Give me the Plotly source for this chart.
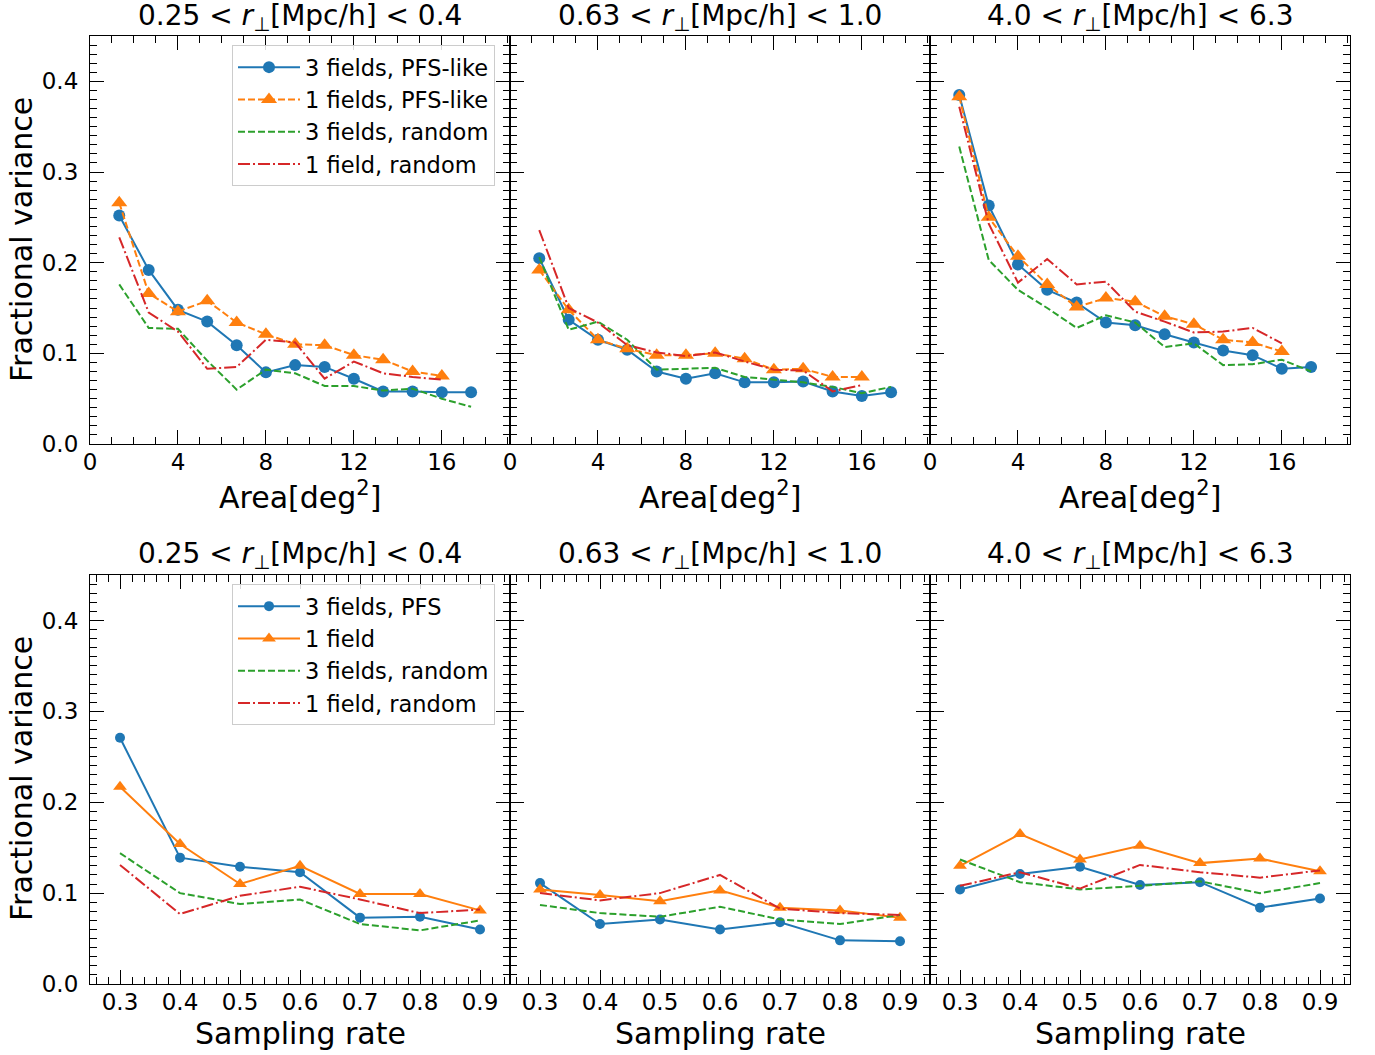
import plotly.graph_objects as go

# ---------------- data ----------------
area = [1.33, 2.67, 4.0, 5.33, 6.67, 8.0, 9.33, 10.67, 12.0, 13.33, 14.67, 16.0, 17.33]
area12 = area[:12]
sampling = [0.3, 0.4, 0.5, 0.6, 0.7, 0.8, 0.9]

titles = ["0.25 &lt; <i>r</i><sub>⊥</sub>[Mpc/h] &lt; 0.4",
          "0.63 &lt; <i>r</i><sub>⊥</sub>[Mpc/h] &lt; 1.0",
          "4.0 &lt; <i>r</i><sub>⊥</sub>[Mpc/h] &lt; 6.3"]

# top row: fractional variance vs area
a1_pfs3 = [0.252, 0.192, 0.148, 0.135, 0.109, 0.079, 0.087, 0.085, 0.072, 0.058, 0.058, 0.057, 0.057]
a1_pfs1 = [0.266, 0.166, 0.146, 0.158, 0.134, 0.121, 0.110, 0.109, 0.098, 0.093, 0.080, 0.075]
a1_rnd3 = [0.176, 0.128, 0.127, 0.092, 0.060, 0.082, 0.078, 0.064, 0.064, 0.059, 0.061, 0.050, 0.041]
a1_rnd1 = [0.228, 0.145, 0.124, 0.083, 0.085, 0.115, 0.112, 0.072, 0.091, 0.078, 0.074, 0.071]

a2_pfs3 = [0.205, 0.137, 0.115, 0.104, 0.080, 0.072, 0.078, 0.068, 0.068, 0.069, 0.058, 0.053, 0.057]
a2_pfs1 = [0.192, 0.148, 0.115, 0.105, 0.098, 0.098, 0.100, 0.094, 0.082, 0.083, 0.074, 0.074]
a2_rnd3 = [0.206, 0.126, 0.135, 0.115, 0.082, 0.083, 0.084, 0.074, 0.071, 0.068, 0.063, 0.056, 0.063]
a2_rnd1 = [0.236, 0.150, 0.134, 0.109, 0.101, 0.097, 0.101, 0.091, 0.082, 0.081, 0.058, 0.065]

a3_pfs3 = [0.385, 0.263, 0.198, 0.170, 0.156, 0.134, 0.131, 0.121, 0.112, 0.103, 0.098, 0.083, 0.085]
a3_pfs1 = [0.383, 0.250, 0.207, 0.176, 0.151, 0.161, 0.157, 0.141, 0.132, 0.115, 0.112, 0.102]
a3_rnd3 = [0.328, 0.203, 0.170, 0.150, 0.128, 0.142, 0.134, 0.107, 0.111, 0.087, 0.088, 0.093, 0.080]
a3_rnd1 = [0.372, 0.243, 0.178, 0.204, 0.176, 0.179, 0.146, 0.135, 0.123, 0.124, 0.128, 0.111]

# bottom row: fractional variance vs sampling rate
s1_pfs3 = [0.271, 0.139, 0.129, 0.123, 0.073, 0.074, 0.060]
s1_pfs1 = [0.217, 0.154, 0.110, 0.130, 0.099, 0.099, 0.081]
s1_rnd3 = [0.144, 0.100, 0.088, 0.093, 0.066, 0.059, 0.070]
s1_rnd1 = [0.131, 0.077, 0.097, 0.107, 0.093, 0.078, 0.082]

s2_pfs3 = [0.111, 0.066, 0.071, 0.060, 0.068, 0.048, 0.047]
s2_pfs1 = [0.104, 0.098, 0.091, 0.103, 0.084, 0.081, 0.073]
s2_rnd3 = [0.087, 0.078, 0.074, 0.085, 0.071, 0.066, 0.076]
s2_rnd1 = [0.100, 0.092, 0.100, 0.120, 0.083, 0.078, 0.076]

s3_pfs3 = [0.104, 0.121, 0.129, 0.109, 0.112, 0.084, 0.094]
s3_pfs1 = [0.130, 0.165, 0.137, 0.152, 0.133, 0.138, 0.124]
s3_rnd3 = [0.137, 0.112, 0.104, 0.108, 0.113, 0.100, 0.111]
s3_rnd1 = [0.108, 0.123, 0.105, 0.131, 0.123, 0.117, 0.125]

top_names = ["3 fields, PFS-like", "1 fields, PFS-like", "3 fields, random", "1 field, random"]
bot_names = ["3 fields, PFS", "1 field", "3 fields, random", "1 field, random"]

# ---------------- style ----------------
BLUE, ORANGE, GREEN, RED = "#1f77b4", "#ff7f0e", "#2ca02c", "#d62728"
FONT = "DejaVu Sans"
W, H = 1375, 1055
DASH = "7px,3px"
DASHDOT = "12px,3px,2px,3px"
TICKSIZE = 23
LABELSIZE = 30
TITLESIZE = 28

xd = [(90 / W, 510 / W), (510 / W, 930 / W), (930 / W, 1350 / W)]
yd_top = (1 - 444 / H, 1 - 36 / H)
yd_bot = (1 - 984 / H, 1 - 575 / H)

fig = go.Figure()

top_data = [(a1_pfs3, a1_pfs1, a1_rnd3, a1_rnd1),
            (a2_pfs3, a2_pfs1, a2_rnd3, a2_rnd1),
            (a3_pfs3, a3_pfs1, a3_rnd3, a3_rnd1)]
bot_data = [(s1_pfs3, s1_pfs1, s1_rnd3, s1_rnd1),
            (s2_pfs3, s2_pfs1, s2_rnd3, s2_rnd1),
            (s3_pfs3, s3_pfs1, s3_rnd3, s3_rnd1)]

for i, (p3, p1, r3, r1) in enumerate(top_data):
    xa = "x" if i == 0 else f"x{i + 1}"
    ya = "y" if i == 0 else f"y{i + 1}"
    show = i == 0
    fig.add_trace(go.Scatter(x=area, y=p3, mode="lines+markers", name=top_names[0],
                             line=dict(color=BLUE, width=2), marker=dict(symbol="circle", size=12, color=BLUE),
                             xaxis=xa, yaxis=ya, showlegend=show, legend="legend", legendgroup="t0"))
    fig.add_trace(go.Scatter(x=area12, y=p1, mode="lines+markers", name=top_names[1],
                             line=dict(color=ORANGE, width=2, dash=DASH),
                             marker=dict(symbol="triangle-up", size=14, color=ORANGE),
                             xaxis=xa, yaxis=ya, showlegend=show, legend="legend", legendgroup="t1"))
    fig.add_trace(go.Scatter(x=area, y=r3, mode="lines", name=top_names[2],
                             line=dict(color=GREEN, width=2, dash=DASH),
                             xaxis=xa, yaxis=ya, showlegend=show, legend="legend", legendgroup="t2"))
    fig.add_trace(go.Scatter(x=area12, y=r1, mode="lines", name=top_names[3],
                             line=dict(color=RED, width=2, dash=DASHDOT),
                             xaxis=xa, yaxis=ya, showlegend=show, legend="legend", legendgroup="t3"))

for i, (p3, p1, r3, r1) in enumerate(bot_data):
    xa = f"x{i + 4}"
    ya = f"y{i + 4}"
    show = i == 0
    fig.add_trace(go.Scatter(x=sampling, y=p3, mode="lines+markers", name=bot_names[0],
                             line=dict(color=BLUE, width=2), marker=dict(symbol="circle", size=10, color=BLUE),
                             xaxis=xa, yaxis=ya, showlegend=show, legend="legend2", legendgroup="b0"))
    fig.add_trace(go.Scatter(x=sampling, y=p1, mode="lines+markers", name=bot_names[1],
                             line=dict(color=ORANGE, width=2),
                             marker=dict(symbol="triangle-up", size=12, color=ORANGE),
                             xaxis=xa, yaxis=ya, showlegend=show, legend="legend2", legendgroup="b1"))
    fig.add_trace(go.Scatter(x=sampling, y=r3, mode="lines", name=bot_names[2],
                             line=dict(color=GREEN, width=2, dash=DASH),
                             xaxis=xa, yaxis=ya, showlegend=show, legend="legend2", legendgroup="b2"))
    fig.add_trace(go.Scatter(x=sampling, y=r1, mode="lines", name=bot_names[3],
                             line=dict(color=RED, width=2, dash=DASHDOT),
                             xaxis=xa, yaxis=ya, showlegend=show, legend="legend2", legendgroup="b3"))

common = dict(showline=True, linecolor="black", linewidth=1.2, mirror="allticks",
              ticks="inside", ticklen=14, tickwidth=1.3, tickcolor="black",
              showgrid=False, zeroline=False, automargin=False,
              tickfont=dict(family=FONT, size=TICKSIZE, color="black"))

layout = {}
for i in range(3):
    # top row
    xk = "xaxis" if i == 0 else f"xaxis{i + 1}"
    yk = "yaxis" if i == 0 else f"yaxis{i + 1}"
    ya = "y" if i == 0 else f"y{i + 1}"
    xa = "x" if i == 0 else f"x{i + 1}"
    layout[xk] = dict(common, domain=xd[i], anchor=ya, range=[0, 19.1], ticklabelstandoff=-3,
                      tickmode="array", tickvals=[0, 4, 8, 12, 16], ticktext=["0", "4", "8", "12", "16"],
                      minor=dict(ticks="inside", dtick=1, tick0=0, ticklen=7, tickwidth=1, tickcolor="black"))
    layout[yk] = dict(common, domain=yd_top, anchor=xa, range=[0, 0.45], ticklabelstandoff=6,
                      tickmode="array", tickvals=[0, 0.1, 0.2, 0.3, 0.4],
                      ticktext=["0.0", "0.1", "0.2", "0.3", "0.4"], showticklabels=(i == 0),
                      minor=dict(ticks="inside", dtick=0.01, tick0=0, ticklen=7, tickwidth=1, tickcolor="black"))
    # bottom row
    xk = f"xaxis{i + 4}"
    yk = f"yaxis{i + 4}"
    layout[xk] = dict(common, domain=xd[i], anchor=f"y{i + 4}", range=[0.25, 0.95], ticklabelstandoff=-3,
                      tickmode="array", tickvals=sampling, ticktext=[f"{v:.1f}" for v in sampling],
                      minor=dict(ticks="inside", dtick=0.02, tick0=0.0, ticklen=7, tickwidth=1, tickcolor="black"))
    layout[yk] = dict(common, domain=yd_bot, anchor=f"x{i + 4}", range=[0, 0.45], ticklabelstandoff=6,
                      tickmode="array", tickvals=[0, 0.1, 0.2, 0.3, 0.4],
                      ticktext=["0.0", "0.1", "0.2", "0.3", "0.4"], showticklabels=(i == 0),
                      minor=dict(ticks="inside", dtick=0.01, tick0=0, ticklen=7, tickwidth=1, tickcolor="black"))

annotations = []
for i in range(3):
    cx = (xd[i][0] + xd[i][1]) / 2
    annotations.append(dict(text=titles[i], x=cx, y=1 - 18 / H, xref="paper", yref="paper",
                            showarrow=False, xanchor="center", yanchor="middle",
                            font=dict(family=FONT, size=TITLESIZE, color="black")))
    annotations.append(dict(text=titles[i], x=cx, y=1 - 555 / H, xref="paper", yref="paper",
                            showarrow=False, xanchor="center", yanchor="middle",
                            font=dict(family=FONT, size=TITLESIZE, color="black")))
    annotations.append(dict(text="Area[deg<sup>2</sup>]", x=cx, y=1 - 496 / H, xref="paper", yref="paper",
                            showarrow=False, xanchor="center", yanchor="middle",
                            font=dict(family=FONT, size=LABELSIZE, color="black")))
    annotations.append(dict(text="Sampling rate", x=cx, y=1 - 1033 / H, xref="paper", yref="paper",
                            showarrow=False, xanchor="center", yanchor="middle",
                            font=dict(family=FONT, size=LABELSIZE, color="black")))
for yc in (240, 779):
    annotations.append(dict(text="Fractional variance", x=21 / W, y=1 - yc / H, xref="paper", yref="paper",
                            showarrow=False, xanchor="center", yanchor="middle", textangle=-90,
                            font=dict(family=FONT, size=LABELSIZE, color="black")))

legend_common = dict(xref="paper", yref="paper", xanchor="left", yanchor="top",
                     bgcolor="rgba(255,255,255,0.85)", bordercolor="#cccccc", borderwidth=1,
                     font=dict(family=FONT, size=22.5, color="black"), tracegroupgap=0,
                     itemwidth=62)

fig.update_layout(
    width=W, height=H,
    margin=dict(l=0, r=0, t=0, b=0, autoexpand=False),
    paper_bgcolor="white", plot_bgcolor="white",
    font=dict(family=FONT, color="black"),
    annotations=annotations,
    legend=dict(legend_common, x=232 / W, y=1 - 45 / H),
    legend2=dict(legend_common, x=232 / W, y=1 - 584 / H),
    **layout,
)

fig.write_html("out.html")
